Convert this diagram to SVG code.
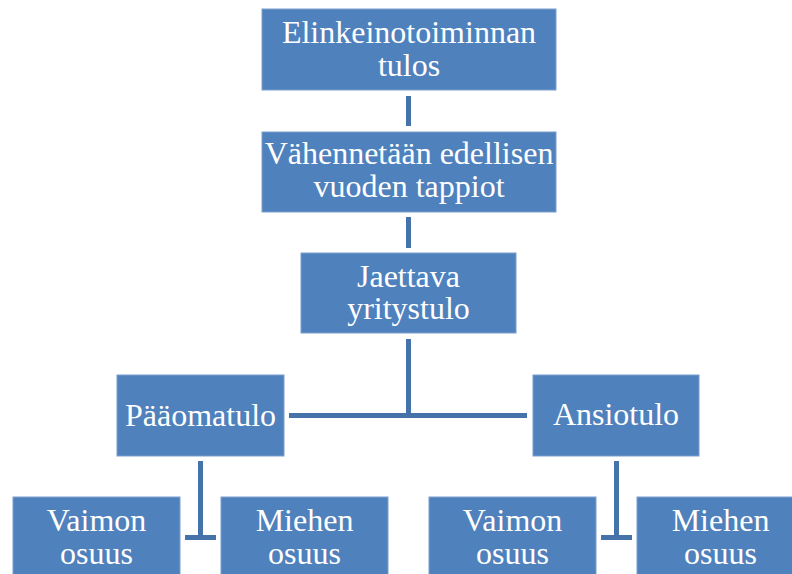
<svg xmlns="http://www.w3.org/2000/svg" width="792" height="574" viewBox="0 0 792 574">
<style>
.box{fill:#4F81BD;stroke:#7B9FCF;stroke-width:1}
.t{font-family:'Liberation Serif','Times New Roman',serif;font-size:32px;fill:#FFFFFF;text-anchor:middle}
.c{fill:#4672AA}
</style>
<rect width="792" height="574" fill="#FFFFFF"/>
<g id="connectors">
<rect class="c" x="406" y="96" width="5" height="30"/>
<rect class="c" x="406" y="217" width="5" height="31"/>
<rect class="c" x="406" y="339" width="5" height="76"/>
<rect class="c" x="289" y="413" width="238" height="5"/>
<rect class="c" x="198" y="461" width="5" height="78"/>
<rect class="c" x="185" y="535" width="31" height="5"/>
<rect class="c" x="614" y="461" width="5" height="78"/>
<rect class="c" x="601" y="535" width="31" height="5"/>
</g>
<g id="n1">
<rect class="box" x="262" y="9" width="294" height="81"/>
<text class="t" x="409" y="43">Elinkeinotoiminnan</text>
<text class="t" x="409" y="76">tulos</text>
</g>
<g id="n2">
<rect class="box" x="262" y="132" width="294" height="80"/>
<text class="t" x="409" y="164">Vähennetään edellisen</text>
<text class="t" x="409" y="197">vuoden tappiot</text>
</g>
<g id="n3">
<rect class="box" x="301" y="253" width="215" height="80"/>
<text class="t" x="408.5" y="286.5">Jaettava</text>
<text class="t" x="408.5" y="319">yritystulo</text>
</g>
<g id="n4">
<rect class="box" x="117" y="375" width="167" height="81"/>
<text class="t" x="200.5" y="425.5">Pääomatulo</text>
</g>
<g id="n5">
<rect class="box" x="533" y="375" width="166" height="81"/>
<text class="t" x="616" y="425">Ansiotulo</text>
</g>
<g id="n6">
<rect class="box" x="13" y="497" width="167" height="90"/>
<text class="t" x="96.5" y="530.5">Vaimon</text>
<text class="t" x="96.5" y="563.5">osuus</text>
</g>
<g id="n7">
<rect class="box" x="221" y="497" width="167" height="90"/>
<text class="t" x="304.5" y="530.5">Miehen</text>
<text class="t" x="304.5" y="563.5">osuus</text>
</g>
<g id="n8">
<rect class="box" x="429" y="497" width="167" height="90"/>
<text class="t" x="512.5" y="530.5">Vaimon</text>
<text class="t" x="512.5" y="563.5">osuus</text>
</g>
<g id="n9">
<rect class="box" x="637" y="497" width="167" height="90"/>
<text class="t" x="720.5" y="530.5">Miehen</text>
<text class="t" x="720.5" y="563.5">osuus</text>
</g>
</svg>
